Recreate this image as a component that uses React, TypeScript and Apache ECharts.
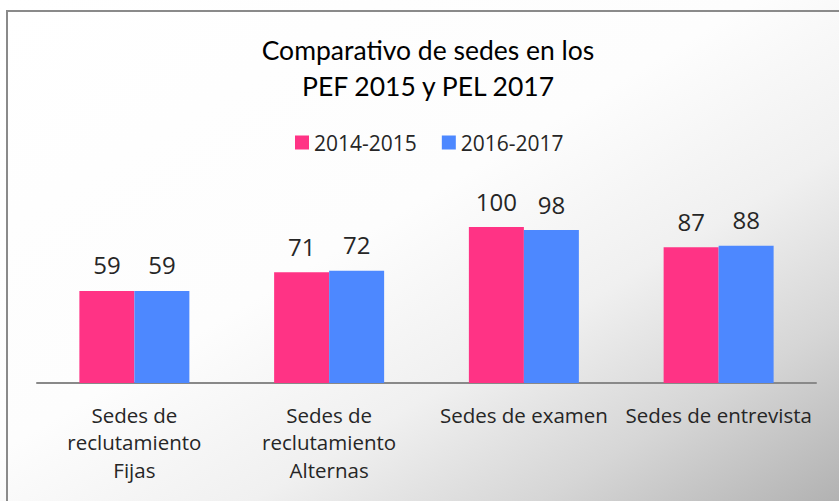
import React, { useEffect, useRef } from "react";
import * as echarts from "echarts";

const categories = [
  "Sedes de\nreclutamiento\nFijas",
  "Sedes de\nreclutamiento\nAlternas",
  "Sedes de examen",
  "Sedes de entrevista",
];
const series2015 = [59, 71, 100, 87];
const series2017 = [59, 72, 98, 88];
const seriesNames = ["2014-2015", "2016-2017"];
const titleText = "Comparativo de sedes en los\nPEF 2015 y PEL 2017";

const FONT = "Open Sans";

export default function App() {
  const ref = useRef<HTMLDivElement>(null);
  useEffect(() => {
    if (!ref.current) return;
    const chart = echarts.init(ref.current, null, { renderer: "svg" });
    const labelStyle = {
      show: true,
      position: "top",
      distance: 14,
      fontFamily: FONT,
      fontSize: 24,
      color: "#262626",
    };
    chart.setOption({
      animation: false,
      backgroundColor: "transparent",
      title: {
        text: titleText,
        left: 423,
        textAlign: "center",
        top: 27,
        textStyle: {
          fontFamily: "Lato",
          fontSize: 26.5,
          fontWeight: "normal",
          color: "#000",
          lineHeight: 36,
        },
      },
      legend: {
        top: 127,
        left: 290,
        itemWidth: 14,
        itemHeight: 14,
        itemGap: 25,
        icon: "rect",
        textStyle: { fontFamily: FONT, fontSize: 21, color: "#262626" },
        data: seriesNames,
      },
      grid: { left: 37, right: 23, top: 227, bottom: 118 },
      xAxis: {
        type: "category",
        data: categories,
        axisLine: { lineStyle: { color: "#898989", width: 2 } },
        axisTick: { show: false },
        axisLabel: {
          fontFamily: FONT,
          fontSize: 20.5,
          color: "#262626",
          lineHeight: 27.5,
          margin: 18,
          interval: 0,
        },
      },
      yAxis: {
        type: "value",
        min: 0,
        max: 100,
        show: false,
        splitLine: { show: false },
      },
      series: [
        {
          name: seriesNames[0],
          type: "bar",
          data: series2015,
          barWidth: 55,
          barGap: "0%",
          itemStyle: { color: "#FF3385" },
          label: labelStyle,
        },
        {
          name: seriesNames[1],
          type: "bar",
          data: series2017,
          barWidth: 55,
          barGap: "0%",
          itemStyle: { color: "#4D88FF" },
          label: labelStyle,
        },
      ],
      graphic: [
        {
          type: "polyline",
          shape: { points: [[7, 501], [7, 11], [839, 11]] },
          style: { stroke: "#8a8a8a", lineWidth: 2, fill: "none" },
          silent: true,
        },
      ],
    });
    return () => chart.dispose();
  }, []);
  return (
    <div
      ref={ref}
      style={{
        position: "fixed",
        left: 0,
        top: 0,
        width: 839,
        height: 501,
        background:
          "linear-gradient(to bottom right, #ffffff 0%, #fdfdfd 45%, #f0f0f0 65%, #d6d6d6 82%, #b2b2b2 100%)",
      }}
    />
  );
}
